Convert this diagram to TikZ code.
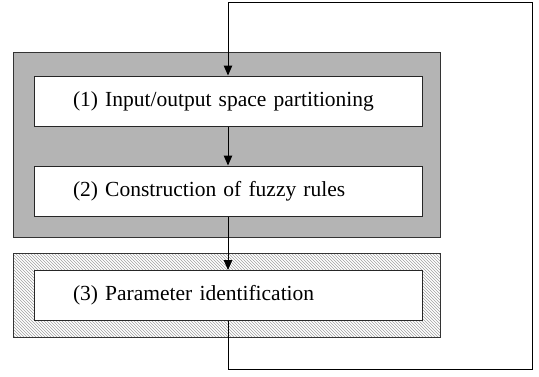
\documentclass[tikz,border=0pt]{standalone}
\usepackage{fontspec}
\setmainfont{Liberation Serif}
\usetikzlibrary{patterns,arrows.meta}
\definecolor{panelgray}{RGB}{180,180,180}
\definecolor{hatchgray}{RGB}{160,160,160}
\tikzset{
  panel/.style={draw=black!80, line width=1pt},
  stepbox/.style={draw=black!85, fill=white, line width=1pt, text width=310pt, align=left, inner xsep=39pt, inner ysep=0pt, minimum height=50pt, font=\fontsize{21.5}{24}\selectfont},
  flow/.style={draw=black, line width=1pt, -{Triangle[length=10pt,width=8.5pt]}},
  plainline/.style={draw=black, line width=1pt}
}
\begin{document}
\begin{tikzpicture}[x=1pt,y=-1pt]
\useasboundingbox (0,0) rectangle (539,376);
% panels
\path[panel, fill=panelgray] (13,52) rectangle (440,237);
\path[panel, pattern=north west lines, pattern color=hatchgray] (13,253) rectangle (440,337);
% boxes
\node[stepbox] (b1) at (228,101) {(1) Input/output space partitioning};
\node[stepbox] (b2) at (228,191) {(2) Construction of fuzzy rules};
\node[stepbox] (b3) at (228,295.5) {(3) Parameter identification};
% corners of feedback loop
\coordinate (c1) at (228,369);
\coordinate (c2) at (532,369);
\coordinate (c3) at (532,2);
\coordinate (c4) at (228,2);
% connectors
\draw[flow] (b1.south) -- (b2.north);
\draw[flow] (b2.south) -- (b3.north);
\draw[plainline] (b3.south) -- (c1) -- (c2) -- (c3) -- (c4);
\draw[flow] (c4) -- (b1.north);
\end{tikzpicture}
\end{document}
